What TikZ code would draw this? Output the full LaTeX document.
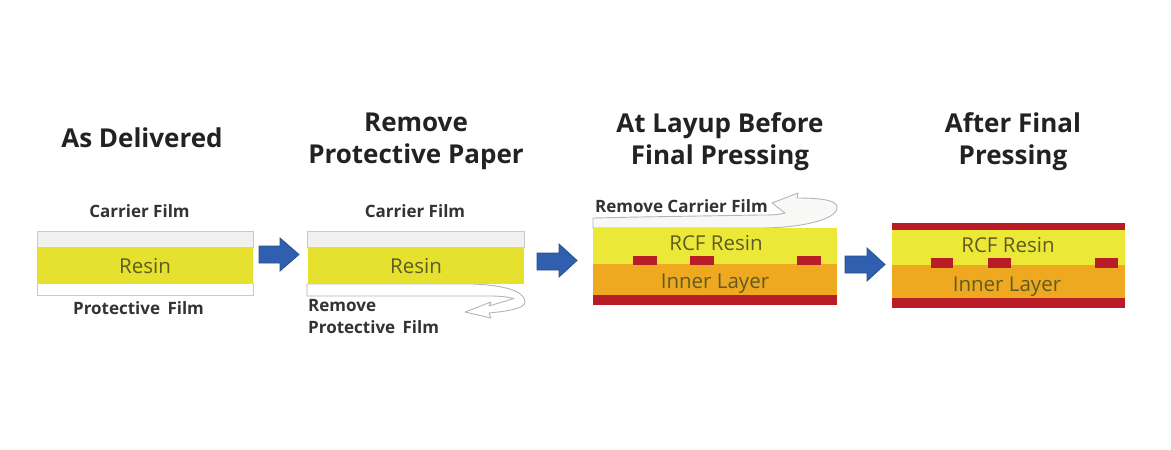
\documentclass[tikz,border=0pt]{standalone}
\usepackage{fontspec}
\setmainfont{Open Sans}
\definecolor{filmc}{HTML}{F1F1EF}
\definecolor{filmedge}{HTML}{C9C9C9}
\definecolor{resinA}{HTML}{E6E12F}
\definecolor{resinB}{HTML}{ECE838}
\definecolor{innerc}{HTML}{EFA920}
\definecolor{copperc}{HTML}{B81C26}
\definecolor{bluea}{HTML}{2F5FAE}
\definecolor{blueedge}{HTML}{26508F}
\definecolor{inktitle}{HTML}{222222}
\definecolor{inklabel}{HTML}{333333}
\definecolor{inkresin}{HTML}{5E5C22}
\definecolor{curlc}{HTML}{B5B5B5}
\tikzset{
  x=1pt,y=-1pt,
  film/.style={fill=filmc,draw=filmedge,line width=.9pt},
  whitefilm/.style={fill=white,draw=filmedge,line width=.9pt},
  resinlayer/.style={fill=resinA},
  rcflayer/.style={fill=resinB},
  innerlayer/.style={fill=innerc},
  copper/.style={fill=copperc},
  flow/.style={fill=bluea,draw=blueedge,line width=.8pt,line join=miter},
  curl/.style={fill=white,draw=curlc,line width=.9pt,line join=round},
  curlfilm/.style={curl,fill=filmc!50!white},
  title/.style={font=\fontsize{26}{31.5}\selectfont\bfseries,text=inktitle,align=center,inner sep=0},
  label/.style={font=\fontsize{17}{20}\selectfont\bfseries,text=inklabel,inner sep=0},
  layertext/.style={font=\fontsize{20.5}{24}\selectfont,text=inkresin,inner sep=0},
}
\begin{document}
\begin{tikzpicture}
\useasboundingbox[fill=white] (0,0) rectangle (1171,450);

% Panel 1
\path[film] (37,231) rectangle (253,247);
\path[whitefilm] (37,283) rectangle (253,295);
\path[resinlayer] (37,246.5) rectangle (253,284);
\node[layertext] (r1) at (145,266.5) {Resin};
\node[title] (t1) at (142,137.5) {As Delivered};
\node[label] (c1) at (139.5,211) {Carrier Film};
\node[label] (p1) at (138.5,308.5) {Protective\hspace{3pt} Film};

% Panel 2
\path[curl] (307,284) -- (307,296) -- (490,296) .. controls (500,296) and (508,297) .. (514,298.5)
  -- (489,306) -- (491,302) -- (465,312) -- (491,318) -- (489,313)
  .. controls (510,311) and (525,308) .. (525,302)
  .. controls (525,290) and (500,285) .. (473,284) -- cycle;
\path[film] (307.5,231) rectangle (524,247);
\path[resinlayer] (307.5,246.5) rectangle (524,284);
\node[layertext] (r2) at (416,266.5) {Resin};
\node[title] (t2) at (416,141.5) {Remove\\Protective Paper};
\node[label] (c2) at (415,211.5) {Carrier Film};
\node[label,anchor=west] (p2a) at (308,305.5) {Remove};
\node[label,anchor=west] (p2b) at (308,327) {Protective\hspace{3pt} Film};

% Panel 3
\path[curlfilm] (593,228) -- (593,218) -- (640,217) -- (760,215)
  .. controls (772,215) and (778,215) .. (785,213) -- (772,203) -- (798,193) -- (797,198)
  .. controls (825,198) and (838,201) .. (837,208)
  .. controls (836,220) and (800,228) .. (760,228) -- cycle;
\path[rcflayer] (593,228) rectangle (837,264);
\path[innerlayer] (593,264) rectangle (837,295);
\path[copper] (593,295) rectangle (837,305);
\path[copper] (633,256) rectangle (657,265);
\path[copper] (690,256) rectangle (714,265);
\path[copper] (797,256) rectangle (821,265);
\node[layertext] (r3) at (716,243) {RCF Resin};
\node[layertext] (i3) at (715,284) {Inner Layer};
\node[title] (t3) at (720,141.5) {At Layup Before\\Final Pressing};
\node[label,anchor=west] (c3) at (595,206) {Remove Carrier Film};

% Panel 4
\path[rcflayer] (892,228) rectangle (1125,266);
\path[innerlayer] (892,265) rectangle (1125,298);
\path[copper] (892,223) rectangle (1125,229.5);
\path[copper] (892,298) rectangle (1125,308);
\path[copper] (931,258) rectangle (953,268);
\path[copper] (988,258) rectangle (1011,268);
\path[copper] (1095,258) rectangle (1118,268);
\node[layertext] (r4) at (1008,245) {RCF Resin};
\node[layertext] (i4) at (1007,286.5) {Inner Layer};
\node[title] (t4) at (1013,141.5) {After Final\\Pressing};

% Flow arrows
\path[flow] (259,246) -- (280,246) -- (280,238) -- (299,254.5) -- (280,271) -- (280,263) -- (259,263) -- cycle;
\path[flow] (537,253) -- (559,253) -- (559,244) -- (577,260.5) -- (559,277) -- (559,270) -- (537,270) -- cycle;
\path[flow] (845,256) -- (867,256) -- (867,248) -- (885,264.5) -- (867,281) -- (867,273) -- (845,273) -- cycle;
\end{tikzpicture}
\end{document}
